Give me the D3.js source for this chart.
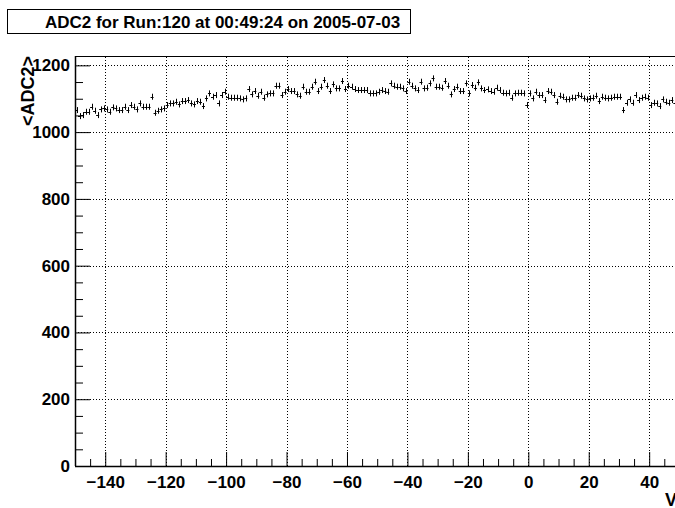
<!DOCTYPE html>
<html>
<head>
<meta charset="utf-8">
<script src="https://cdn.jsdelivr.net/npm/d3@7"></script>
<style>
  html, body { margin: 0; padding: 0; background: #fff; }
  svg { display: block; }
  text { font-family: "Liberation Sans", Arial, Helvetica, sans-serif; font-weight: bold; fill: #000; }
</style>
</head>
<body>
<script>
// ---- data ----
const title = "ADC2 for Run:120 at 00:49:24 on 2005-07-03";
const yTitle = "<ADC2>";
const xTitle = "V";
const binStart = -149.5;   // first bin centre
const binWidth = 1;
const values = [
  1066,1048,1051,1061,1061,1076,1064,1051,1068,1071,1068,1061,1074,1071,1066,1066,1076,1066,1081,1076,
  1068,1086,1076,1076,1076,1106,1058,1064,1068,1071,1081,1086,1086,1091,1083,1093,1093,1096,1086,1083,
  1093,1091,1078,1101,1116,1106,1111,1086,1111,1121,
  1106,1103,1103,1103,1101,1098,1101,1129,1113,1123,1109,1121,1103,1113,1116,1116,1139,1139,1111,1121,
  1129,1123,1123,1113,1109,1136,1121,1121,1136,1151,1123,1136,1156,1139,1123,1143,1131,1131,1153,1129,
  1139,1136,1129,1126,1126,1126,1126,1116,1116,1116,
  1121,1126,1123,1121,1146,1139,1136,1136,1131,1123,1151,1139,1131,1126,1151,1131,1133,1146,1161,1136,
  1136,1133,1153,1139,1113,1129,1136,1123,1123,1146,1116,1141,1133,1149,1131,1126,1128,1123,1121,1133,
  1126,1118,1116,1118,1103,1116,1118,1118,
  1116,1081,1116,1101,1121,1111,1111,1096,1123,1121,1111,1091,1109,1106,1098,1098,1103,1103,1111,1109,
  1101,1098,1101,1103,1109,1093,1106,1103,1101,1103,1106,1106,1106,1066,1088,1098,1088,1111,1096,1103,
  1106,1103,1081,1088,1086,1078,1098,1091,1088,1096,1086
];
const errorHalf = 9;        // typical half-length of the vertical error bars
const xMajorTicks = [-140,-120,-100,-80,-60,-40,-20,0,20,40];
const yMajorTicks = [0,200,400,600,800,1000,1200];
const xDomain = [-150, 50];
const yDomain = [0, 1228];

// ---- layout ----
const W = 675, H = 508;
const L = 75, B = 466, T = 56, R = 679.4;

const svg = d3.select("body").append("svg").attr("width", W).attr("height", H);

const x = d3.scaleLinear().domain(xDomain).range([L, R]);
const y = d3.scaleLinear().domain(yDomain).range([B, T]);

// grid
const grid = svg.append("g").attr("stroke", "#000").attr("stroke-width", 1).attr("stroke-dasharray", "1,2");
grid.selectAll("line.gx").data(xMajorTicks).join("line")
  .attr("x1", d => Math.round(x(d)) + 0.5).attr("x2", d => Math.round(x(d)) + 0.5)
  .attr("y1", B).attr("y2", T);
grid.selectAll("line.gy").data(yMajorTicks.filter(d => d > 0)).join("line")
  .attr("y1", d => Math.round(y(d)) + 0.5).attr("y2", d => Math.round(y(d)) + 0.5)
  .attr("x1", L).attr("x2", R);

// frame
svg.append("rect").attr("x", L + 0.5).attr("y", T + 0.5).attr("width", R - L).attr("height", B - T)
  .attr("fill", "none").attr("stroke", "#000").attr("stroke-width", 1);

// x axis
const xAxis = d3.axisBottom(x).tickValues(xMajorTicks).tickSize(-14).tickPadding(8).tickFormat(d3.format("d"));
const gx = svg.append("g").attr("transform", `translate(0,${B})`).call(xAxis);
gx.select(".domain").remove();
gx.selectAll("text").attr("font-size", 17).attr("dy", "0.95em").attr("y", 6);
const xMinor = d3.axisBottom(x).tickValues(d3.range(-145, 50, 5).filter(v => v % 20 !== 0)).tickSize(-7).tickFormat("");
const gxm = svg.append("g").attr("transform", `translate(0,${B})`).call(xMinor);
gxm.select(".domain").remove();

// y axis
const yAxis = d3.axisLeft(y).tickValues(yMajorTicks).tickSize(-15).tickPadding(6).tickFormat(d3.format("d"));
const gy = svg.append("g").attr("transform", `translate(${L},0)`).call(yAxis);
gy.select(".domain").remove();
gy.selectAll("text").attr("font-size", 17).attr("x", -5);
const yMinor = d3.axisLeft(y).tickValues(d3.range(50, 1228, 50).filter(v => v % 200 !== 0)).tickSize(-8).tickFormat("");
const gym = svg.append("g").attr("transform", `translate(${L},0)`).call(yMinor);
gym.select(".domain").remove();
svg.selectAll(".tick line").attr("stroke", "#000");

// axis lines
svg.append("line").attr("x1", L).attr("x2", W).attr("y1", B + 0.5).attr("y2", B + 0.5).attr("stroke", "#000").attr("stroke-width", 1.5);
svg.append("line").attr("x1", L + 0.5).attr("x2", L + 0.5).attr("y1", T).attr("y2", B).attr("stroke", "#000").attr("stroke-width", 1.5);

// data points (profile crosses)
const pts = values.map((v, i) => ({ cx: binStart + i * binWidth, v }));
const clip = svg.append("clipPath").attr("id", "plotclip").append("rect")
  .attr("x", L).attr("y", T).attr("width", R - L).attr("height", B - T);
const gp = svg.append("g").attr("clip-path", "url(#plotclip)").attr("stroke", "#000").attr("stroke-width", 1);
gp.selectAll("line.h").data(pts).join("line")
  .attr("x1", d => x(d.cx - binWidth / 2)).attr("x2", d => x(d.cx + binWidth / 2))
  .attr("y1", d => Math.round(y(d.v)) + 0.5).attr("y2", d => Math.round(y(d.v)) + 0.5);
gp.selectAll("line.v").data(pts).join("line")
  .attr("x1", d => Math.round(x(d.cx)) + 0.5).attr("x2", d => Math.round(x(d.cx)) + 0.5)
  .attr("y1", d => y(d.v - errorHalf)).attr("y2", d => y(d.v + errorHalf));

// y title
svg.append("text").attr("transform", `translate(34,${T}) rotate(-90)`)
  .attr("text-anchor", "end").attr("font-size", 18).text(yTitle);

// x title (cut by the right edge, as in the reference)
svg.append("text").attr("x", 665).attr("y", 506).attr("font-size", 18).text(xTitle);

// title box
svg.append("rect").attr("x", 7.5).attr("y", 9.5).attr("width", 403).attr("height", 24)
  .attr("fill", "#fff").attr("stroke", "#000").attr("stroke-width", 1);
svg.append("text").attr("x", 222.5).attr("y", 27.5).attr("text-anchor", "middle")
  .attr("font-size", 17).text(title);
</script>
</body>
</html>
